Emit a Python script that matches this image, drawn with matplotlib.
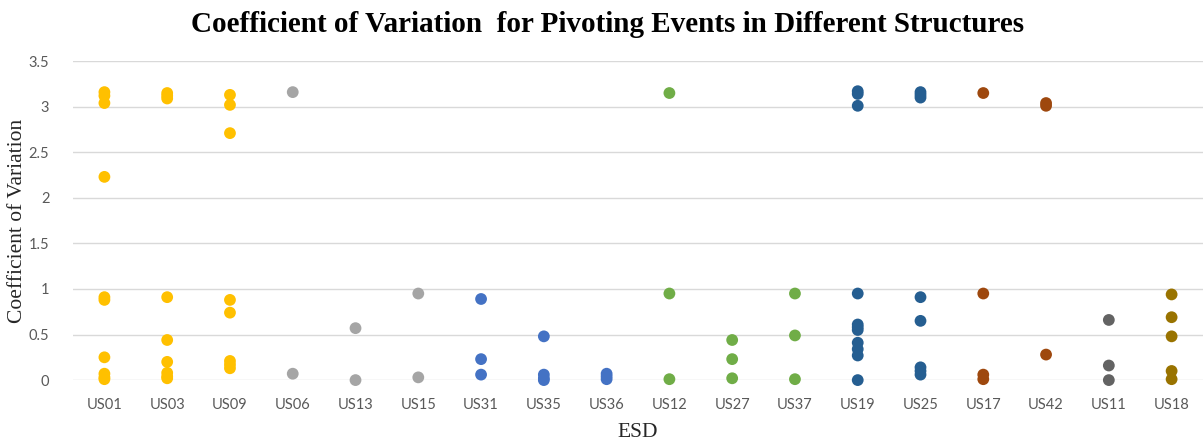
import matplotlib.pyplot as plt

# ESD structures in plotting order, grouped by colour
structures = ["US01", "US03", "US09", "US06", "US13", "US15", "US31", "US35", "US36",
              "US12", "US27", "US37", "US19", "US25", "US17", "US42", "US11", "US18"]

cv_values = {
    "US01": [3.16, 3.12, 3.04, 2.23, 0.91, 0.88, 0.25, 0.07, 0.03, 0.01],
    "US03": [3.15, 3.12, 3.09, 0.91, 0.44, 0.20, 0.08, 0.04, 0.02],
    "US09": [3.13, 3.02, 2.71, 0.88, 0.74, 0.21, 0.17, 0.13],
    "US06": [3.16, 0.07],
    "US13": [0.57, 0.0],
    "US15": [0.95, 0.03],
    "US31": [0.89, 0.23, 0.06],
    "US35": [0.48, 0.06, 0.02, 0.0],
    "US36": [0.07, 0.04, 0.01],
    "US12": [3.15, 0.95, 0.01],
    "US27": [0.44, 0.23, 0.02],
    "US37": [0.95, 0.49, 0.01],
    "US19": [3.17, 3.14, 3.01, 0.95, 0.61, 0.58, 0.55, 0.41, 0.34, 0.27, 0.0],
    "US25": [3.16, 3.13, 3.10, 0.91, 0.65, 0.14, 0.10, 0.06],
    "US17": [3.15, 0.95, 0.06, 0.01],
    "US42": [3.04, 3.01, 0.28],
    "US11": [0.66, 0.16, 0.0],
    "US18": [0.94, 0.69, 0.48, 0.10, 0.01],
}

colors = {
    "US01": "#FFC000", "US03": "#FFC000", "US09": "#FFC000",
    "US06": "#A5A5A5", "US13": "#A5A5A5", "US15": "#A5A5A5",
    "US31": "#4472C4", "US35": "#4472C4", "US36": "#4472C4",
    "US12": "#70AD47", "US27": "#70AD47", "US37": "#70AD47",
    "US19": "#255E91", "US25": "#255E91",
    "US17": "#9E480E", "US42": "#9E480E",
    "US11": "#636363",
    "US18": "#997300",
}

fig = plt.figure(figsize=(12.03, 4.43), dpi=100)
ax = fig.add_axes([0.0607, 0.142, 0.9393, 0.720])

for i, name in enumerate(structures):
    vals = cv_values[name]
    ax.scatter([i] * len(vals), vals, s=72, color=colors[name],
               edgecolors="none", zorder=3, clip_on=False)

ax.set_xlim(-0.5, len(structures) - 0.5)
ax.set_ylim(0, 3.5)
ax.set_yticks([0, 0.5, 1, 1.5, 2, 2.5, 3, 3.5])
ax.set_yticklabels(["0", "0.5", "1", "1.5", "2", "2.5", "3", "3.5"])
ax.set_xticks(range(len(structures)))
ax.set_xticklabels(structures)

ax.grid(axis="y", color="#D9D9D9", linewidth=1)
ax.set_axisbelow(True)
for s in ax.spines.values():
    s.set_visible(False)
ax.tick_params(length=0, labelsize=10.5, colors="#595959")
ax.tick_params(axis="x", pad=13)
ax.tick_params(axis="y", pad=17)
for lbl in ax.get_xticklabels() + ax.get_yticklabels():
    lbl.set_family("Lato")

ax.set_xlabel("ESD", family="Liberation Serif", fontsize=15.5, color="#262626", labelpad=8)
ax.set_ylabel("Coefficient of Variation", family="Liberation Serif", fontsize=15.5,
              color="#262626", labelpad=1)
fig.suptitle("Coefficient of Variation  for Pivoting Events in Different Structures",
             family="Liberation Serif", fontweight="bold", fontsize=21, x=0.505, y=0.975)

fig.savefig("out.png", dpi=100)
